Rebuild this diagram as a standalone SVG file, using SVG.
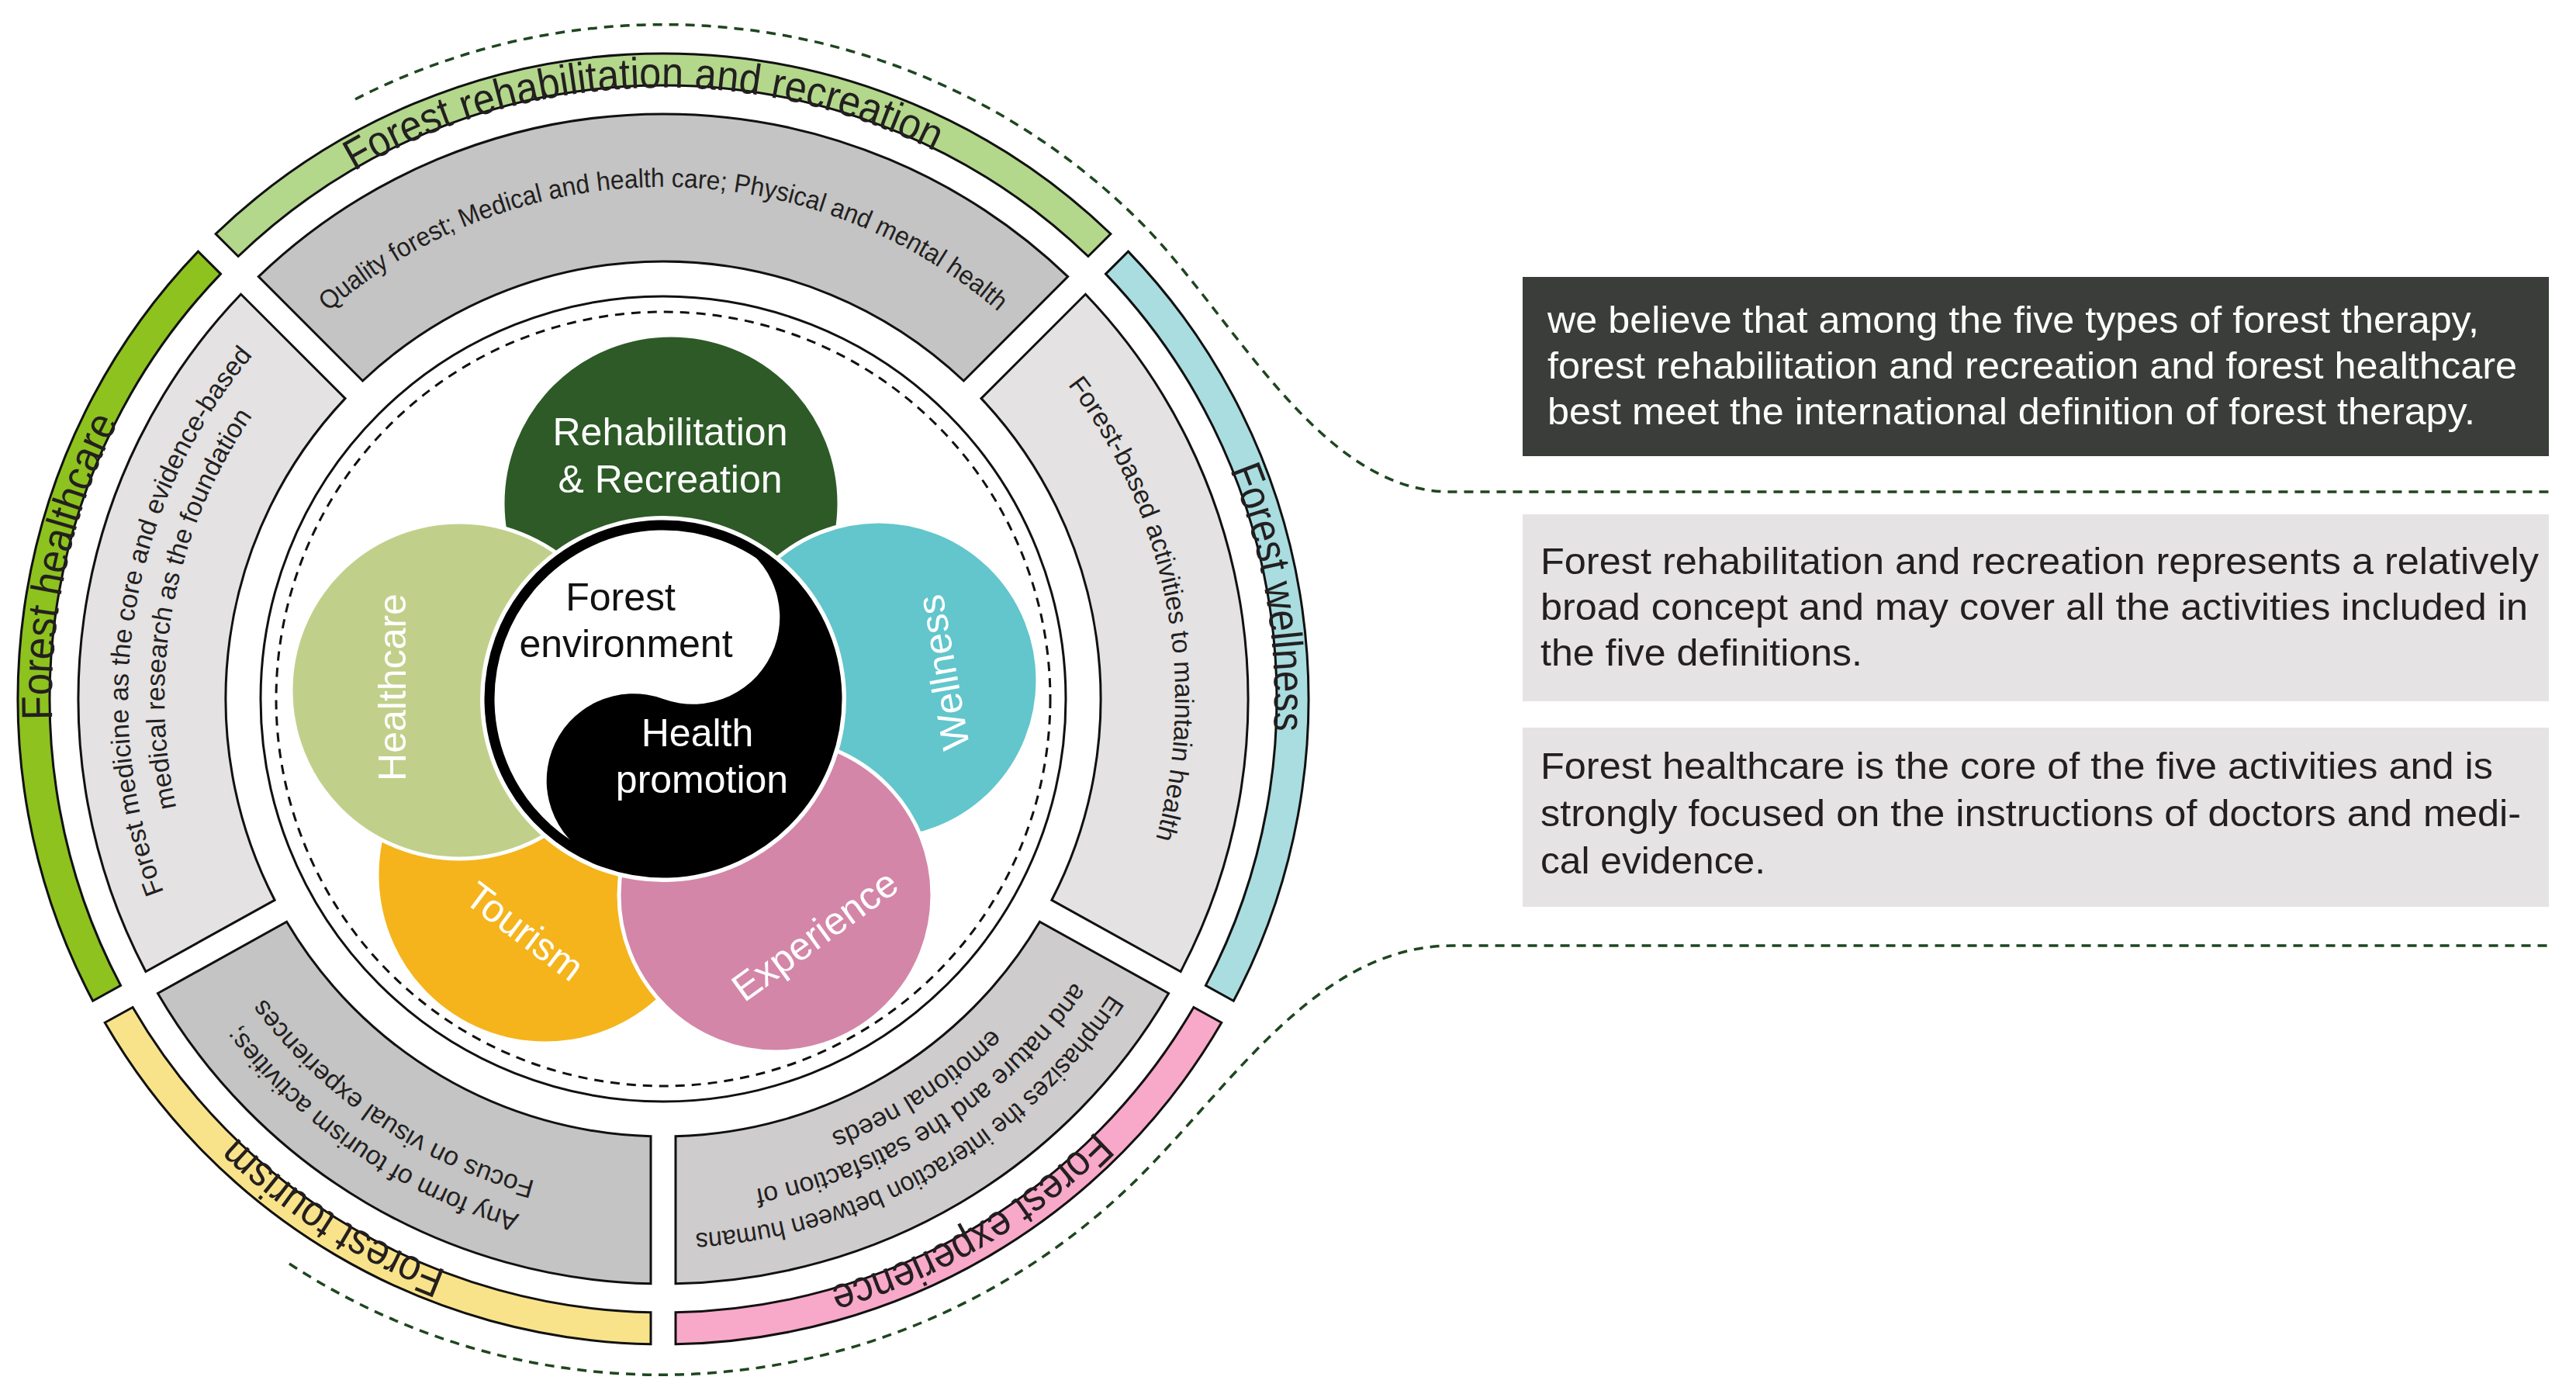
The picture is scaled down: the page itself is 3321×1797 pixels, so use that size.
<svg xmlns="http://www.w3.org/2000/svg" xmlns:xlink="http://www.w3.org/1999/xlink" width="3321" height="1797" viewBox="0 0 3321 1797">
<style>
.seg{stroke:#111;stroke-width:3}
.band{font-family:"Liberation Sans",Arial,sans-serif;font-size:56px;fill:#231f20}
.gt{font-family:"Liberation Sans",Arial,sans-serif;font-size:34px;fill:#231f20}
.pl{font-family:"Liberation Sans",Arial,sans-serif;font-size:50px;fill:#fff;text-anchor:middle}
.cl{font-family:"Liberation Sans",Arial,sans-serif;font-size:50px;text-anchor:middle}
.bx{font-family:"Liberation Sans",Arial,sans-serif;font-size:48px}
.petal{stroke:#fff;stroke-width:5}
.conn{fill:none;stroke:#1e4620;stroke-width:3.5;stroke-dasharray:12 9}
</style>
<defs>
<path id="c600" d="M855,1501 A600,600 0 1 1 855,301 A600,600 0 1 1 855,1501"/>
<path id="c643" d="M855,1544 A643,643 0 1 1 855,258 A643,643 0 1 1 855,1544"/>
<path id="c660" d="M855,1561 A660,660 0 1 1 855,241 A660,660 0 1 1 855,1561"/>
<path id="c690" d="M855,1591 A690,690 0 1 1 855,211 A690,690 0 1 1 855,1591"/>
<path id="c788" d="M855,1689 A788,788 0 1 1 855,113 A788,788 0 1 1 855,1689"/>
</defs>
<rect width="3321" height="1797" fill="#fff"/>

<g id="connectors">
<path class="conn" d="M458,128 A869,869 0 0 1 1470,286 C1590,406 1700,634 1870,634 L3290,634"/>
<path class="conn" d="M373,1629 A873,873 0 0 0 1470,1516 C1590,1396 1700,1219 1873,1219 L3290,1219"/>
</g>

<g id="outer-bands">
<path class="seg" fill="#b3d78b" d="M278.1,301.5 A832,832 0 0 1 1431.9,301.5 L1402.9,330.5 A791,791 0 0 0 307.1,330.5 Z"/>
<path class="seg" fill="#a9dde0" d="M1454.5,324.1 A832,832 0 0 1 1590.3,1290.3 L1554.4,1270.4 A791,791 0 0 0 1425.5,353.1 Z"/>
<path class="seg" fill="#f8a8c8" d="M1574.8,1318.3 A832,832 0 0 1 871,1732.8 L871,1691.8 A791,791 0 0 0 1538.9,1298.4 Z"/>
<path class="seg" fill="#f9e38a" d="M839,1732.8 A832,832 0 0 1 135.2,1318.3 L171.1,1298.4 A791,791 0 0 0 839,1691.8 Z"/>
<path class="seg" fill="#8dc21f" d="M119.7,1290.3 A832,832 0 0 1 255.5,324.1 L284.5,353.1 A791,791 0 0 0 155.6,1270.4 Z"/>
<g transform="rotate(-2,855,901)"><text class="band"><textPath href="#c788" startOffset="50%" text-anchor="middle" textLength="780" lengthAdjust="spacingAndGlyphs">Forest rehabilitation and recreation</textPath></text></g>
<g transform="rotate(80.5,855,901)"><text class="band"><textPath href="#c788" startOffset="50%" text-anchor="middle" textLength="344" lengthAdjust="spacingAndGlyphs">Forest wellness</textPath></text></g>
<g transform="rotate(149.6,855,901)"><text class="band"><textPath href="#c788" startOffset="50%" text-anchor="middle" textLength="402" lengthAdjust="spacingAndGlyphs">Forest experience</textPath></text></g>
<g transform="rotate(212.5,855,901)"><text class="band"><textPath href="#c788" startOffset="50%" text-anchor="middle" textLength="323" lengthAdjust="spacingAndGlyphs">Forest tourism</textPath></text></g>
<g transform="rotate(282.5,855,901)"><text class="band"><textPath href="#c788" startOffset="50%" text-anchor="middle" textLength="398" lengthAdjust="spacingAndGlyphs">Forest healthcare</textPath></text></g>
</g>

<g id="gray-ring">
<path class="seg" fill="#c4c4c4" d="M333.3,356.6 A754,754 0 0 1 1376.7,356.6 L1242.4,491 A564,564 0 0 0 467.6,491 Z"/>
<path class="seg" fill="#e4e2e3" d="M1399.4,379.3 A754,754 0 0 1 1522.1,1252.5 L1355.9,1160.3 A564,564 0 0 0 1265,513.6 Z"/>
<path class="seg" fill="#cfcccd" d="M1506.6,1280.5 A754,754 0 0 1 871,1654.8 L871,1464.8 A564,564 0 0 0 1340.4,1188.3 Z"/>
<path class="seg" fill="#c4c4c4" d="M839,1654.8 A754,754 0 0 1 203.4,1280.5 L369.6,1188.3 A564,564 0 0 0 839,1464.8 Z"/>
<path class="seg" fill="#e4e2e3" d="M187.9,1252.5 A754,754 0 0 1 310.6,379.3 L445,513.6 A564,564 0 0 0 354.1,1160.3 Z"/>
<g transform="rotate(0,855,901)"><text class="gt"><textPath href="#c660" startOffset="50%" text-anchor="middle" textLength="942" lengthAdjust="spacingAndGlyphs">Quality forest; Medical and health care; Physical and mental health</textPath></text></g>
<g transform="rotate(79,855,901)"><text class="gt"><textPath href="#c660" startOffset="50%" text-anchor="middle">Forest-based activities to maintain health</textPath></text></g>
<g transform="rotate(150,855,901)"><text class="gt"><textPath href="#c690" startOffset="50%" text-anchor="middle" textLength="640" lengthAdjust="spacingAndGlyphs">Emphasizes the interaction between humans</textPath></text></g>
<g transform="rotate(147,855,901)"><text class="gt"><textPath href="#c643" startOffset="50%" text-anchor="middle">and nature and the satisfaction of</textPath></text></g>
<g transform="rotate(147,855,901)"><text class="gt"><textPath href="#c600" startOffset="50%" text-anchor="middle">emotional needs</textPath></text></g>
<g transform="rotate(214,855,901)"><text class="gt"><textPath href="#c690" startOffset="50%" text-anchor="middle">Any form of tourism activities;</textPath></text></g>
<g transform="rotate(214,855,901)"><text class="gt"><textPath href="#c643" startOffset="50%" text-anchor="middle">Focus on visual experiences</textPath></text></g>
<g transform="rotate(279.4,855,901)"><text class="gt"><textPath href="#c690" startOffset="50%" text-anchor="middle">Forest medicine as the core and evidence-based</textPath></text></g>
<g transform="rotate(281,855,901)"><text class="gt"><textPath href="#c643" startOffset="50%" text-anchor="middle">medical research as the foundation</textPath></text></g>
</g>

<g id="inner-rings">
<circle cx="855" cy="901" r="519" fill="#fff" stroke="#111" stroke-width="3"/>
<circle cx="855" cy="901" r="499" fill="none" stroke="#111" stroke-width="3" stroke-dasharray="12 9"/>
</g>

<g id="petal-rehab"><circle class="petal" cx="865" cy="649" r="217" fill="#2d5a27"/></g>
<g id="petal-tourism"><circle class="petal" cx="703" cy="1128" r="217" fill="#f5b41c"/></g>
<g id="petal-healthcare"><circle class="petal" cx="592" cy="890" r="217" fill="#c0d08a"/></g>
<g id="petal-wellness"><circle class="petal" cx="1133" cy="877" r="205" fill="#62c6cc"/></g>
<g id="petal-experience"><circle class="petal" cx="1000" cy="1154" r="202" fill="#d486a8"/></g>

<g id="yinyang" transform="translate(855,901) rotate(20)">
<circle r="236" fill="#fff"/>
<circle r="224" fill="#fff" stroke="#000" stroke-width="13"/>
<path fill="#000" d="M0,-224 A224,224 0 0 1 0,224 A112,112 0 0 1 0,0 A112,112 0 0 0 0,-224 Z"/>
</g>

<g id="labels">
<text class="pl" x="864" y="574">Rehabilitation</text>
<text class="pl" x="864" y="635">&amp; Recreation</text>
<text class="pl" transform="translate(505,886) rotate(-90)" y="18">Healthcare</text>
<text class="pl" transform="translate(1215,867) rotate(-100)" y="18">Wellness</text>
<text class="pl" transform="translate(677,1200) rotate(37)" y="18">Tourism</text>
<text class="pl" transform="translate(1050,1205) rotate(-36)" y="18">Experience</text>
<text class="cl" x="800" y="787" fill="#111">Forest</text>
<text class="cl" x="807" y="847" fill="#111">environment</text>
<text class="cl" x="899" y="962" fill="#fff">Health</text>
<text class="cl" x="905" y="1022" fill="#fff">promotion</text>
</g>

<g id="box-1">
<rect x="1963" y="357" width="1323" height="231" fill="#3a3d3a"/>
<text class="bx" fill="#fff" x="1995" y="429" textLength="1201" lengthAdjust="spacingAndGlyphs">we believe that among the five types of forest therapy,</text>
<text class="bx" fill="#fff" x="1995" y="488" textLength="1250" lengthAdjust="spacingAndGlyphs">forest rehabilitation and recreation and forest healthcare</text>
<text class="bx" fill="#fff" x="1995" y="547" textLength="1196" lengthAdjust="spacingAndGlyphs">best meet the international definition of forest therapy.</text>
</g>
<g id="box-2">
<rect x="1963" y="663" width="1323" height="241" fill="#e5e3e3"/>
<text class="bx" fill="#231f20" x="1986" y="740" textLength="1287" lengthAdjust="spacingAndGlyphs">Forest rehabilitation and recreation represents a relatively</text>
<text class="bx" fill="#231f20" x="1986" y="799" textLength="1273" lengthAdjust="spacingAndGlyphs">broad concept and may cover all the activities included in</text>
<text class="bx" fill="#231f20" x="1986" y="858" textLength="415" lengthAdjust="spacingAndGlyphs">the five definitions.</text>
</g>
<g id="box-3">
<rect x="1963" y="938" width="1323" height="231" fill="#e5e3e3"/>
<text class="bx" fill="#231f20" x="1986" y="1004" textLength="1228" lengthAdjust="spacingAndGlyphs">Forest healthcare is the core of the five activities and is</text>
<text class="bx" fill="#231f20" x="1986" y="1065" textLength="1264" lengthAdjust="spacingAndGlyphs">strongly focused on the instructions of doctors and medi-</text>
<text class="bx" fill="#231f20" x="1986" y="1126" textLength="290" lengthAdjust="spacingAndGlyphs">cal evidence.</text>
</g>
</svg>
